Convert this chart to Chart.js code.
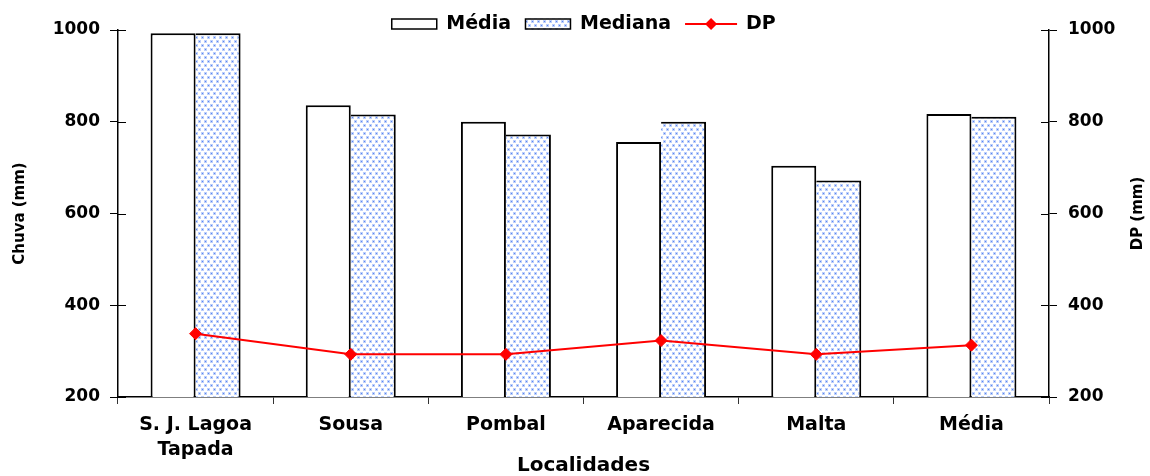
<!DOCTYPE html>
<html>
<head>
<meta charset="utf-8">
<script src="https://cdn.jsdelivr.net/npm/chart.js@4/dist/chart.umd.min.js"></script>
<style>
  html, body { margin: 0; padding: 0; background: #ffffff; }
  #wrap { width: 1150px; height: 476px; position: relative; }
</style>
</head>
<body>
<div id="wrap"><canvas id="chart" width="1150" height="476"></canvas></div>
<script>
// Rainfall per locality: mean, median and standard deviation
const categories = [['S. J. Lagoa', 'Tapada'], 'Sousa', 'Pombal', 'Aparecida', 'Malta', 'Média'];
const mediaValues = [993, 836, 800, 756, 704, 817];
const medianaValues = [993, 816, 772, 800, 672, 811];
const dpValues = [338, 293, 293, 323, 293, 313];
const yTicks = [200, 400, 600, 800, 1000];

const FONT = "'DejaVu Sans', sans-serif";

// Dotted blue fill used for the median bars
function makeDotPattern() {
  const tile = document.createElement('canvas');
  tile.width = 6; tile.height = 8;
  const t = tile.getContext('2d');
  t.fillStyle = '#ffffff';
  t.fillRect(0, 0, 6, 8);
  const dots = [[1, 1], [4, 5]];
  for (const [x, y] of dots) {
    t.fillStyle = 'rgba(110,150,245,0.45)';
    t.fillRect(x - 1, y - 1, 3, 3);
    t.fillStyle = '#5a86f2';
    t.fillRect(x, y, 1, 1);
  }
  return t.createPattern(tile, 'repeat');
}
const dotPattern = makeDotPattern();

// Tick marks that cross the vertical axes (inner half)
const innerTicks = {
  id: 'innerTicks',
  afterDatasetsDraw(chart) {
    const ctx = chart.ctx;
    ctx.save();
    ctx.strokeStyle = '#000000';
    ctx.lineWidth = 1;
    for (const id of ['y', 'y2']) {
      const s = chart.scales[id];
      const x = id === 'y' ? s.right : s.left;
      const dir = id === 'y' ? 1 : -1;
      for (const t of s.ticks) {
        const py = Math.round(s.getPixelForValue(t.value)) + 0.5;
        ctx.beginPath();
        ctx.moveTo(x, py);
        ctx.lineTo(x + dir * 8, py);
        ctx.stroke();
      }
    }
    ctx.restore();
  }
};

// Right axis title, read from bottom to top like the left one
const rightTitle = {
  id: 'rightTitle',
  afterDraw(chart) {
    const ctx = chart.ctx;
    const area = chart.chartArea;
    ctx.save();
    ctx.translate(1138, (area.top + area.bottom) / 2);
    ctx.rotate(-Math.PI / 2);
    ctx.font = "bold 15px " + FONT;
    ctx.fillStyle = '#000000';
    ctx.textAlign = 'center';
    ctx.textBaseline = 'middle';
    ctx.fillText('DP (mm)', 0, 0);
    ctx.restore();
  }
};

// Legend row above the plot: boxes for the bars, line with marker for DP
const topLegend = {
  id: 'topLegend',
  afterDraw(chart) {
    const ctx = chart.ctx;
    const area = chart.chartArea;
    const ds = chart.data.datasets;
    ctx.save();
    ctx.font = "bold 19px " + FONT;
    ctx.textBaseline = 'middle';
    const boxW = 46, boxH = 11, gapText = 9, gapItem = 14, lineW = 52;
    const widths = ds.map((d, i) => (i < 2 ? boxW : lineW) + gapText + ctx.measureText(d.label).width);
    const total = widths.reduce((a, b) => a + b, 0) + gapItem * (ds.length - 1);
    let x = (area.left + area.right) / 2 - total / 2;
    const cy = 24;
    ds.forEach((d, i) => {
      if (i < 2) {
        ctx.fillStyle = d.backgroundColor;
        ctx.fillRect(x, cy - boxH / 2, boxW, boxH);
        ctx.strokeStyle = '#000000';
        ctx.lineWidth = 1.5;
        ctx.strokeRect(x + 0.5, cy - boxH / 2 + 0.5, boxW - 1, boxH - 1);
        x += boxW + gapText;
      } else {
        ctx.strokeStyle = d.borderColor;
        ctx.lineWidth = 2;
        ctx.beginPath();
        ctx.moveTo(x, cy);
        ctx.lineTo(x + lineW, cy);
        ctx.stroke();
        ctx.fillStyle = d.pointBackgroundColor;
        const r = 6, mx = x + lineW / 2;
        ctx.beginPath();
        ctx.moveTo(mx, cy - r);
        ctx.lineTo(mx + r, cy);
        ctx.lineTo(mx, cy + r);
        ctx.lineTo(mx - r, cy);
        ctx.closePath();
        ctx.fill();
        x += lineW + gapText;
      }
      ctx.fillStyle = '#000000';
      ctx.textAlign = 'left';
      ctx.fillText(d.label, x, cy);
      x += ctx.measureText(d.label).width + gapItem;
    });
    ctx.restore();
  }
};

const tickFont = { family: FONT, size: 17, weight: 'bold' };
const plainNumber = v => String(v);

new Chart(document.getElementById('chart'), {
  type: 'bar',
  data: {
    labels: categories,
    datasets: [
      {
        label: 'Média',
        data: mediaValues,
        backgroundColor: '#ffffff',
        borderColor: '#000000',
        borderWidth: 2,
        borderSkipped: false,
        yAxisID: 'y',
        order: 2
      },
      {
        label: 'Mediana',
        data: medianaValues,
        backgroundColor: dotPattern,
        borderColor: '#000000',
        borderWidth: { top: 2, right: 2, bottom: 2, left: 0 },
        borderSkipped: false,
        yAxisID: 'y',
        order: 2
      },
      {
        type: 'line',
        label: 'DP',
        data: dpValues,
        borderColor: '#ff0000',
        borderWidth: 2,
        pointStyle: 'rectRot',
        pointRadius: 6,
        pointHoverRadius: 6,
        pointBackgroundColor: '#ff0000',
        pointBorderColor: '#ff0000',
        pointBorderWidth: 1,
        tension: 0,
        yAxisID: 'y2',
        order: 1
      }
    ]
  },
  options: {
    responsive: false,
    animation: false,
    devicePixelRatio: 1,
    layout: { padding: { top: 30, left: 0, right: 0, bottom: 0 } },
    datasets: { bar: { categoryPercentage: 0.58, barPercentage: 1.0 } },
    plugins: {
      legend: { display: false },
      tooltip: { enabled: false }
    },
    scales: {
      x: {
        grid: { offset: true, drawOnChartArea: false, tickLength: 7, color: '#333333', lineWidth: 1 },
        border: { color: '#000000', width: 1.5 },
        ticks: { font: { family: FONT, size: 19, weight: 'bold', lineHeight: 1.3 }, color: '#000000', padding: 9, maxRotation: 0, autoSkip: false },
        title: { display: true, text: 'Localidades', color: '#000000', font: { family: FONT, size: 20, weight: 'bold', lineHeight: 1 }, padding: { top: 0, bottom: 0 } },
        afterFit(s) { s.height = 79; }
      },
      y: {
        position: 'left',
        min: 200, max: 1000,
        afterBuildTicks(s) { s.ticks = yTicks.map(v => ({ value: v })); },
        grid: { drawOnChartArea: false, tickLength: 8, color: '#000000' },
        border: { color: '#000000', width: 1.5 },
        ticks: { font: tickFont, color: '#000000', padding: 10, callback: plainNumber },
        title: { display: true, text: 'Chuva (mm)', color: '#000000', font: { family: FONT, size: 15, weight: 'bold' }, padding: { top: 11, bottom: 0 } },
        afterFit(s) { s.width = 118; }
      },
      y2: {
        position: 'right',
        min: 200, max: 1000,
        afterBuildTicks(s) { s.ticks = yTicks.map(v => ({ value: v })); },
        grid: { drawOnChartArea: false, tickLength: 8, color: '#000000' },
        border: { color: '#000000', width: 1.5 },
        ticks: { font: tickFont, color: '#000000', padding: 11, callback: plainNumber },
        afterFit(s) { s.width = 101; }
      }
    }
  },
  plugins: [innerTicks, topLegend, rightTitle]
});
</script>
</body>
</html>
